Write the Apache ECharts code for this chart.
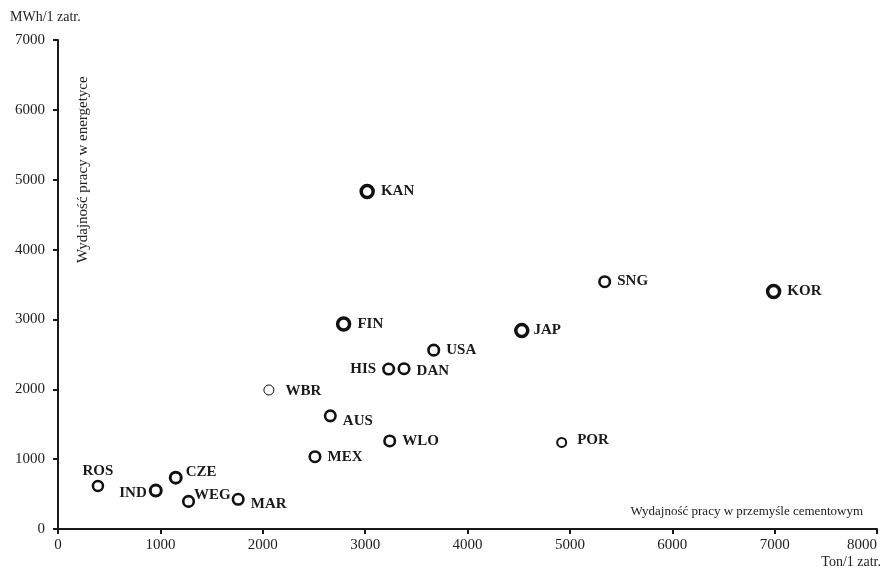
<!DOCTYPE html>
<html>
<head>
<meta charset="utf-8">
<script src="https://cdn.jsdelivr.net/npm/echarts@6/dist/echarts.min.js"></script>
<style>
  html, body { margin: 0; padding: 0; background: #fff; overflow: hidden; }
  #chart { width: 889px; height: 574px; }
</style>
</head>
<body>
<div id="chart"></div>
<script>
// Country codes and labour productivity values
const countries = ['KAN', 'FIN', 'USA', 'HIS', 'DAN', 'WBR', 'AUS', 'WLO', 'POR', 'MEX',
                   'ROS', 'IND', 'CZE', 'WEG', 'MAR', 'SNG', 'KOR', 'JAP'];
// cement industry, tonnes per employee
const cementOutput = [3020, 2790, 3670, 3230, 3380, 2060, 2660, 3240, 4920, 2510,
                      390, 955, 1150, 1275, 1760, 5340, 6990, 4530];
// power sector, MWh per employee
const energyOutput = [4830, 2935, 2560, 2290, 2295, 1990, 1620, 1260, 1240, 1035,
                      615, 550, 735, 395, 425, 3540, 3400, 2840];

const xTicks = [0, 1000, 2000, 3000, 4000, 5000, 6000, 7000, 8000];
const yTicks = [0, 1000, 2000, 3000, 4000, 5000, 6000, 7000];

// label placement per country
const labelPlacement = {
  HIS: { position: 'left', offset: [0, 0] },
  IND: { position: 'left', offset: [4, 3] },
  ROS: { position: 'top', offset: [0, 5] },
  DAN: { position: 'right', offset: [0, 2] },
  AUS: { position: 'right', offset: [0, 5] },
  CZE: { position: 'right', offset: [-3, -6] },
  WEG: { position: 'right', offset: [-7, -6] },
  MAR: { position: 'right', offset: [0, 5] },
  WBR: { position: 'right', offset: [5, 1] },
  POR: { position: 'right', offset: [4, -2] },
  SNG: { position: 'right', offset: [0, -1] },
  JAP: { position: 'right', offset: [-2, 0] }
};
// ring weight per country
const ringStyle = {
  KAN: { size: 12, border: 3.5 },
  FIN: { size: 12, border: 3.5 },
  JAP: { size: 12, border: 3.5 },
  KOR: { size: 12, border: 3.5 },
  WBR: { size: 10, border: 1 },
  POR: { size: 9, border: 2 },
  ROS: { size: 10, border: 2.5 },
  CZE: { size: 11, border: 3 },
  IND: { size: 11, border: 3 }
};

const points = countries.map((c, i) => {
  const lp = labelPlacement[c] || { position: 'right', offset: [0, 0] };
  const rs = ringStyle[c] || { size: 10.5, border: 2.6 };
  return {
    name: c,
    value: [cementOutput[i], energyOutput[i]],
    symbolSize: rs.size,
    itemStyle: { borderWidth: rs.border },
    label: { position: lp.position, offset: lp.offset }
  };
});

const serif = '"Liberation Serif", "DejaVu Serif", serif';
const axisColor = '#1a1a1a';
const plain = v => String(v);

const chart = echarts.init(document.getElementById('chart'), null, { renderer: 'canvas' });
chart.setOption({
  animation: false,
  backgroundColor: '#fff',
  grid: { left: 58, right: 12, top: 40, bottom: 45, containLabel: false, outerBoundsMode: 'none' },
  xAxis: {
    type: 'value',
    min: xTicks[0],
    max: xTicks[xTicks.length - 1],
    interval: 1000,
    axisLine: { show: true, lineStyle: { color: axisColor, width: 2 } },
    axisTick: { show: true, inside: false, length: 5, lineStyle: { color: axisColor, width: 2 } },
    splitLine: { show: false },
    axisLabel: { color: '#222', fontFamily: serif, fontSize: 15, margin: 9, formatter: plain,
                 alignMaxLabel: 'right' }
  },
  yAxis: {
    type: 'value',
    min: yTicks[0],
    max: yTicks[yTicks.length - 1],
    interval: 1000,
    axisLine: { show: true, lineStyle: { color: axisColor, width: 2 } },
    axisTick: { show: true, inside: false, length: 5, lineStyle: { color: axisColor, width: 2 } },
    splitLine: { show: false },
    axisLabel: { color: '#222', fontFamily: serif, fontSize: 15, margin: 13, formatter: plain }
  },
  graphic: [
    { type: 'text', left: 10, top: 10,
      style: { text: 'MWh/1 zatr.', fill: '#222', font: '14px ' + serif } },
    { type: 'text', right: 8, top: 555,
      style: { text: 'Ton/1 zatr.', fill: '#222', font: '14px ' + serif } },
    { type: 'text', right: 26, top: 505,
      style: { text: 'Wydajność pracy w przemyśle cementowym', fill: '#222', font: '13px ' + serif } },
    { type: 'text', x: 76, y: 263, rotation: Math.PI / 2,
      style: { text: 'Wydajność pracy w energetyce', fill: '#222', font: '15px ' + serif } }
  ],
  series: [{
    type: 'scatter',
    symbol: 'circle',
    data: points,
    itemStyle: { color: '#fff', borderColor: '#111', opacity: 1 },
    label: {
      show: true,
      formatter: '{b}',
      color: '#1a1a1a',
      fontFamily: serif,
      fontWeight: 'bold',
      fontSize: 15,
      distance: 6
    },
    emphasis: { disabled: true }
  }]
});
</script>
</body>
</html>
